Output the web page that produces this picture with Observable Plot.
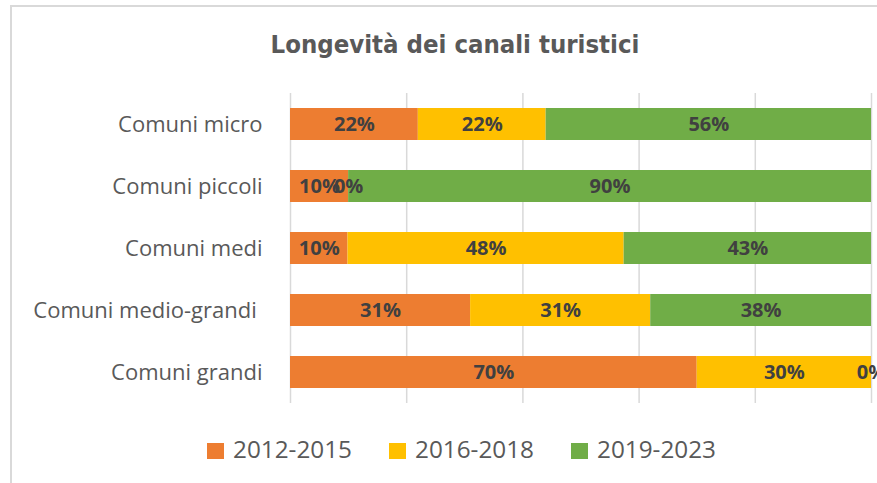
<!DOCTYPE html>
<html>
<head>
<meta charset="utf-8">
<script src="https://cdn.jsdelivr.net/npm/d3@7"></script>
<script src="https://cdn.jsdelivr.net/npm/@observablehq/plot@0.6"></script>
<style>
  html, body { margin: 0; padding: 0; background: #fff; }
  #wrap { position: relative; width: 877px; height: 483px; overflow: hidden; }
  #frame { position: absolute; left: 10px; top: 5px; width: 900px; height: 520px;
           border-left: 2px solid #d9d9d9; border-top: 2px solid #d9d9d9; }
  #title { position: absolute; left: 10px; width: 890px; top: 29px; text-align: center;
           font-family: "Liberation Sans Narrow", "DejaVu Sans Condensed", sans-serif;
           font-weight: bold; font-size: 25.5px; color: #595959; line-height: 30px; }
  #chart { position: absolute; left: 0; top: 80px; }
  #legend { position: absolute; left: 207px; top: 432px; display: flex; align-items: center;
            font-family: "Open Sans", sans-serif; font-size: 24.3px; color: #595959; line-height: 33px; }
  .item { display: flex; align-items: center; width: 182px; flex-shrink: 0; }
  .sw { width: 17px; height: 16px; margin-right: 9px; margin-top: 4px; }
</style>
</head>
<body>
<div id="wrap">
  <div id="frame"></div>
  <div id="title">Longevità dei canali turistici</div>
  <div id="chart"></div>
  <div id="legend"></div>
</div>
<script>
const title = "Longevità dei canali turistici";
const categories = ["Comuni micro", "Comuni piccoli", "Comuni medi", "Comuni medio-grandi\u00a0", "Comuni grandi"];
const periods = ["2012-2015", "2016-2018", "2019-2023"];
const colors = ["#ED7D31", "#FFC000", "#70AD47"];
const v2012_2015 = [22, 10, 10, 31, 70];
const v2016_2018 = [22, 0, 48, 31, 30];
const v2019_2023 = [56, 90, 43, 38, 0];

const series = [v2012_2015, v2016_2018, v2019_2023];
const rows = [];
periods.forEach((p, i) => categories.forEach((c, j) => rows.push({category: c, period: p, value: series[i][j]})));

const chart = Plot.plot({
  width: 877,
  height: 340,
  marginTop: 13,
  marginBottom: 17,
  marginLeft: 290,
  marginRight: 6,
  style: {fontFamily: "Open Sans", color: "#595959", overflow: "visible"},
  x: {domain: [0, 1], axis: null},
  y: {domain: categories, paddingInner: 0.48, paddingOuter: 0.24, label: null},
  color: {domain: periods, range: colors},
  marks: [
    Plot.gridX({ticks: 5, stroke: "#d9d9d9", strokeOpacity: 1, strokeWidth: 1.5}),
    Plot.barX(rows, Plot.stackX({offset: "normalize", x: "value", y: "category", fill: "period"})),
    Plot.text(rows, Plot.stackX({offset: "normalize", x: "value", y: "category", z: "period",
      text: d => d.value + "%", fill: "#404040", fontWeight: "bold", fontSize: 20})),
    Plot.axisY({tickSize: 0, tickPadding: 28, fontSize: 22, label: null})
  ]
});
document.getElementById("chart").appendChild(chart);

const legend = document.getElementById("legend");
periods.forEach((p, i) => {
  const it = document.createElement("div");
  it.className = "item";
  const sw = document.createElement("div");
  sw.className = "sw";
  sw.style.background = colors[i];
  const tx = document.createElement("span");
  tx.textContent = p;
  it.appendChild(sw); it.appendChild(tx);
  legend.appendChild(it);
});
</script>
</body>
</html>
